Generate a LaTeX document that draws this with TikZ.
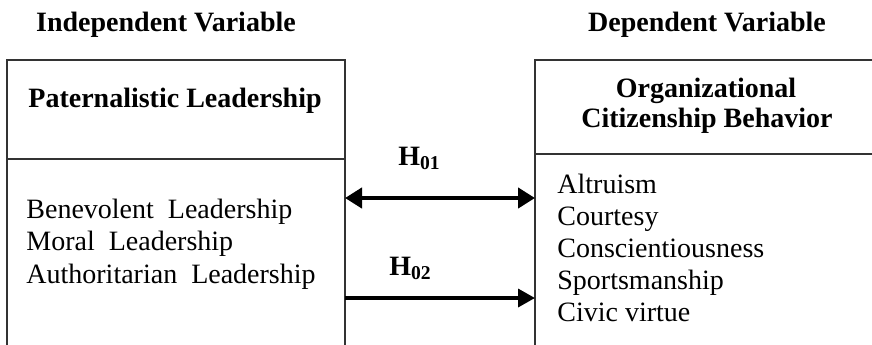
\documentclass[tikz,border=0pt]{standalone}
\usepackage{fontspec}
\setmainfont{Liberation Serif}
\usetikzlibrary{arrows.meta}

\tikzset{
	boxline/.style = {draw=black!80, line width=0.75pt},
	txt/.style = {inner sep=0pt, font=\fontsize{14pt}{16pt}\selectfont},
	head/.style = {txt, font=\fontsize{14pt}{16pt}\selectfont\bfseries},
	hyp/.style = {line width=#1, line cap=butt},
}

\begin{document}
\begin{tikzpicture}[x=0.5pt, y=-0.5pt]

	\useasboundingbox (0,0) rectangle (872,344);
	\clip (0,0) rectangle (872,344);

	% column titles
	\node[head, anchor=base] (indep) at (166,31) {Independent Variable};
	\node[head, anchor=base] (dep) at (707,31) {Dependent Variable};

	% the two boxes (cut off at the bottom)
	\draw[boxline] (7,360) -- (7,60) -- (345,60) -- (345,360);
	\draw[boxline] (7,159) -- (345,159);
	\draw[boxline] (535,360) -- (535,60) -- (890,60);
	\draw[boxline] (535,154) -- (890,154);

	\node[head, anchor=base] (pl) at (175,107) {Paternalistic Leadership};
	\node[head, anchor=base] (ocbA) at (706,97) {Organizational};
	\node[head, anchor=base] (ocbB) at (707,127) {Citizenship Behavior};

	% dimensions
	\foreach \txt [count=\i] in {Benevolent\ \ Leadership, Moral\ \ Leadership, Authoritarian\ \ Leadership}
		\node[txt, anchor=base west] (pldim\i) at (26, {218+32.5*(\i-1)}) {\txt};
	\foreach \txt [count=\i] in {Altruism, Courtesy, Conscientiousness, Sportsmanship, Civic virtue}
		\node[txt, anchor=base west] (ocbdim\i) at (557, {193+32*(\i-1)}) {\txt};

	% hypotheses
	\coordinate (l1) at (345,198);
	\coordinate (r1) at (535,198);
	\coordinate (l2) at (345,298);
	\coordinate (r2) at (535,298);
	\draw[hyp=2.25pt, {Triangle[length=8.5pt,width=10pt]}-{Triangle[length=8.5pt,width=10pt]}] (l1) -- (r1);
	\draw[hyp=1.75pt, -{Triangle[length=8.5pt,width=9pt]}] (l2) -- (r2);
	\node[head, anchor=base west] (h1) at (398,165) {H\textsubscript{01}};
	\node[head, anchor=base west] (h2) at (389,275) {H\textsubscript{02}};

\end{tikzpicture}
\end{document}
